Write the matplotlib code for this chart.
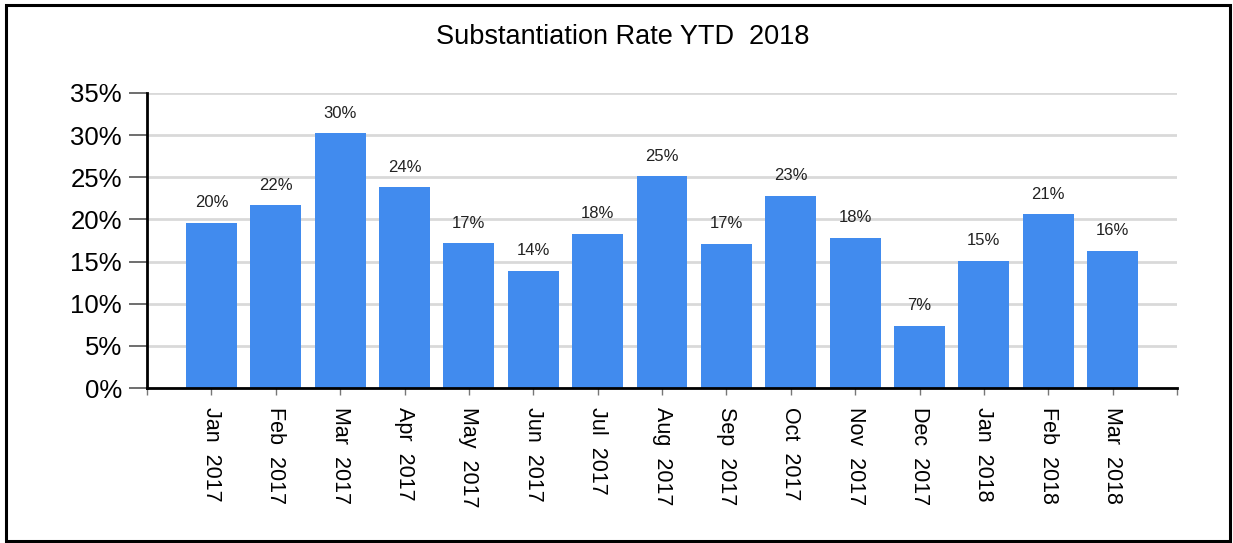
import matplotlib
matplotlib.use("Agg")
import matplotlib.pyplot as plt
from matplotlib.patches import Rectangle
from matplotlib.ticker import FuncFormatter, FixedLocator

plt.rcParams['font.family'] = ['Liberation Sans', 'DejaVu Sans']

months = ["Jan  2017", "Feb  2017", "Mar  2017", "Apr  2017", "May  2017", "Jun  2017",
          "Jul  2017", "Aug  2017", "Sep  2017", "Oct  2017", "Nov  2017", "Dec  2017",
          "Jan  2018", "Feb  2018", "Mar  2018"]
rates = [19.6, 21.7, 30.2, 23.8, 17.2, 13.9, 18.3, 25.1, 17.1, 22.8, 17.8, 7.4, 15.1, 20.6, 16.3]
title = "Substantiation Rate YTD  2018"

W, H = 1233, 543
fig = plt.figure(figsize=(W / 100, H / 100), dpi=100)
fig.patch.set_facecolor("white")

ax = fig.add_axes([147 / W, 1 - 388 / H, (1177 - 147) / W, (388 - 93) / H])
x = list(range(len(months)))
ax.bar(x, rates, width=0.79, color="#418BEE", zorder=3)
ax.set_xlim(-1, len(months))
ax.set_ylim(0, 35)
ax.set_yticks(range(0, 36, 5))
ax.yaxis.set_major_formatter(FuncFormatter(lambda v, p: f"{int(v)}%"))
ax.yaxis.grid(True, color="#d9d9d9", linewidth=2, zorder=0)
ax.set_axisbelow(True)

ax.set_xticks(x)
ax.set_xticklabels(months, rotation=270, fontsize=15.5, va="top", ha="center")
ax.xaxis.set_minor_locator(FixedLocator([-1, len(months)]))
ax.tick_params(axis="x", which="both", length=5, width=1, color="#777777", pad=9)
ax.tick_params(axis="y", length=13, width=1.2, color="#555555", labelsize=18.5, pad=5)

for s in ["top", "right"]:
    ax.spines[s].set_visible(False)
for s in ["left", "bottom"]:
    ax.spines[s].set_linewidth(2)
    ax.spines[s].set_color("black")
    ax.spines[s].set_zorder(5)

for xi, v in zip(x, rates):
    ax.annotate(f"{round(v)}%", (xi, v), xytext=(0, 9), textcoords="offset points",
                ha="center", va="bottom", fontsize=12, color="#222222")

fig.text(623 / W, 1 - 37 / H, title, ha="center", va="center", fontsize=19.5, color="black")

fig.patches.append(Rectangle((6 / W, 1 - 541 / H), (1230 - 6) / W, (541 - 5) / H,
                             transform=fig.transFigure, fill=False, edgecolor="black",
                             linewidth=2.2, zorder=10))

fig.savefig("out.png", dpi=100)
